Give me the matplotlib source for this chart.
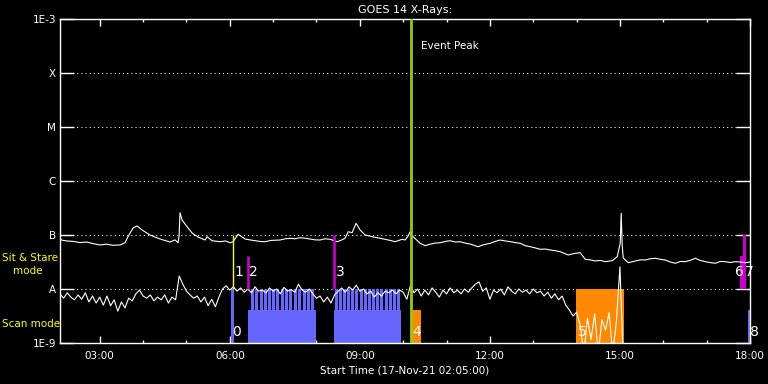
import numpy as np
import matplotlib
matplotlib.use('Agg')
import matplotlib.pyplot as plt
from matplotlib.ticker import FixedLocator, NullLocator

####################################### data (time in hours of 17-Nov-21, flux as log10 W/m^2)
# long channel (1-8 A)
long_time = [2.083, 2.15, 2.245, 2.40, 2.545, 2.70, 2.85, 3.006, 3.15, 3.30, 3.468, 3.583, 3.652,
             3.768, 3.860, 3.976, 4.160, 4.391, 4.622, 4.737, 4.806, 4.830, 4.852, 4.899, 5.014,
             5.129, 5.268, 5.429, 5.476, 5.591, 5.776, 5.90, 6.006, 6.076, 6.191, 6.352, 6.46,
             6.583, 6.70, 6.814, 6.95, 7.160, 7.28, 7.391, 7.50, 7.622, 7.74, 7.853, 7.97, 8.083,
             8.20, 8.314, 8.476, 8.560, 8.660, 8.730, 8.822, 8.914, 9.006, 9.122, 9.352, 9.46,
             9.583, 9.70, 9.814, 9.976, 10.045, 10.114, 10.160, 10.229, 10.391, 10.506, 10.62,
             10.74, 10.853, 10.97, 11.083, 11.20, 11.314, 11.43, 11.545, 11.729, 11.85, 12.006,
             12.12, 12.237, 12.35, 12.468, 12.58, 12.699, 12.814, 12.929, 13.05, 13.160, 13.28,
             13.391, 13.50, 13.622, 13.72, 13.806, 13.968, 14.083, 14.199, 14.31, 14.429, 14.55,
             14.660, 14.822, 14.937, 15.006, 15.029, 15.052, 15.076, 15.191, 15.353, 15.47,
             15.583, 15.70, 15.814, 15.93, 16.045, 16.16, 16.276, 16.39, 16.506, 16.62, 16.737,
             16.85, 16.968, 17.08, 17.199, 17.31, 17.429, 17.545, 17.660, 17.775, 17.891, 18.0]
long_logflux = [-7.08, -7.10, -7.11, -7.12, -7.14, -7.13, -7.16, -7.185, -7.17, -7.19, -7.185, -7.143, -7.031,
                -6.870, -6.833, -6.907, -7.000, -7.074, -7.130, -7.090, -7.143, -7.02, -6.587, -6.722, -6.846,
                -6.963, -7.037, -7.093, -7.031, -7.106, -7.124, -7.11, -7.143, -7.124, -6.987, -7.074, -7.09,
                -7.106, -7.12, -7.124, -7.10, -7.093, -7.07, -7.061, -7.07, -7.050, -7.06, -7.074, -7.09, -7.093,
                -7.07, -7.080, -7.124, -7.10, -7.061, -6.939, -6.957, -6.783, -6.907, -7.000, -7.043, -7.06,
                -7.080, -7.10, -7.124, -7.080, -7.093, -7.020, -6.939, -7.031, -7.154, -7.198, -7.17,
                -7.15, -7.143, -7.12, -7.106, -7.13, -7.124, -7.15, -7.167, -7.217, -7.18, -7.154,
                -7.12, -7.093, -7.11, -7.124, -7.14, -7.154, -7.198, -7.217, -7.24, -7.265, -7.26,
                -7.278, -7.29, -7.309, -7.34, -7.370, -7.339, -7.328, -7.450, -7.46, -7.481, -7.47,
                -7.494, -7.476, -7.402, -7.154, -6.598, -7.20, -7.426, -7.513, -7.481, -7.46,
                -7.463, -7.44, -7.431, -7.45, -7.463, -7.50, -7.524, -7.49, -7.494, -7.47, -7.431,
                -7.47, -7.494, -7.51, -7.524, -7.49, -7.494, -7.51, -7.494, -7.50, -7.513, -7.50]

# short channel (0.5-4 A), 5 min cadence from 02:05
short_start = 2.0833
short_step = 5 / 60
short_logflux = [
    -8.09, -8.17, -8.07, -8.15, -8.20, -8.11, -8.19, -8.07, -8.24, -8.13,
    -8.26, -8.15, -8.30, -8.13, -8.31, -8.20, -8.41, -8.24, -8.35, -8.17,
    -8.22, -8.09, -8.02, -8.13, -8.17, -8.11, -8.22, -8.15, -8.20, -8.11,
    -8.26, -8.15, -8.20, -7.76, -7.91, -8.04, -8.11, -8.17, -8.13, -8.24,
    -8.15, -8.31, -8.19, -8.33, -8.15, -8.00, -7.94, -8.02, -7.96, -8.04,
    -7.98, -8.06, -8.00, -8.07, -7.96, -8.04, -8.02, -8.07, -7.98, -8.04,
    -8.00, -8.09, -7.97, -8.04, -8.01, -8.06, -7.91, -8.02, -8.06, -8.00,
    -8.09, -8.17, -8.13, -8.24, -8.15, -8.26, -8.11, -8.04, -7.98, -8.06,
    -7.96, -8.02, -7.93, -8.04, -8.00, -8.09, -8.04, -8.15, -8.07, -8.13,
    -8.04, -8.07, -8.02, -8.09, -8.02, -8.06, -8.19, -7.94, -8.07, -8.00,
    -8.13, -8.02, -8.11, -7.98, -8.06, -8.15, -8.02, -8.09, -7.98, -8.07,
    -8.02, -8.09, -8.00, -8.06, -7.98, -7.91, -7.87, -8.04, -7.98, -8.19,
    -8.02, -8.07, -8.00, -8.11, -7.96, -8.04, -8.09, -8.00, -8.06, -8.02,
    -8.09, -8.00, -8.07, -8.04, -8.13, -8.06, -8.17, -8.09, -8.20, -8.13,
    -8.30, -8.39, -8.50, -8.43, -8.67, -9.20, -8.54, -8.94, -8.46, -9.20,
    -8.57, -8.76, -8.44, -9.20, -8.61, -7.59, -9.50,
]

# observation markers: number, start, end, bottom, top (log10), colour
obs_num = ['0', '1', '2', '3', '4', '5', '6', '7', '8']
obs_start = [6.030, 6.083, 6.422, 8.406, 10.183, 13.991, 17.776, 17.845, 17.960]
obs_end = [6.099, 6.083, 6.422, 8.406, 10.414, 15.099, 17.914, 17.914, 18.006]
obs_bottom = [-9.0, -8.0, -8.0, -8.0, -9.0, -9.0, -8.0, -8.0, -9.0]
obs_top = [-8.0, -7.0, -7.39, -7.0, -8.39, -8.0, -7.39, -7.0, -8.39]
obs_color = ['#6666ff', '#ffff00', '#cc00cc', '#cc00cc', '#ff8800', '#ff8800', '#cc00cc', '#cc00cc', '#6666ff']
obs_mode = ['scan', 'sit', 'sit', 'sit', 'scan', 'scan', 'sit', 'sit', 'scan']
obs_shift = [1, 1, 1, 1, 1, 1, -4, 1, 1]   # label nudge, points

# scan blocks with raster spikes
block_start = [6.422, 8.406]
block_end = [7.991, 9.953]
block_top = -8.39
spike_top = -8.0
spike_times = [6.514, 6.618, 6.722, 6.814, 6.913, 7.010, 7.107, 7.207, 7.299, 7.403, 7.506,
               7.610, 7.714, 7.813, 7.915,
               8.453, 8.545, 8.644, 8.737, 8.838, 8.930, 9.029, 9.122, 9.221, 9.313, 9.406,
               9.507, 9.607, 9.699, 9.791, 9.890]

event_peak = 10.176
class_levels = [-9, -8, -7, -6, -5, -4, -3]
class_labels = ['1E-9', 'A', 'B', 'C', 'M', 'X', '1E-3']
hour_ticks = [3, 6, 9, 12, 15, 18]
hour_labels = ['03:00', '06:00', '09:00', '12:00', '15:00', '18:00']

####################################### figure
fig = plt.figure(figsize=(7.68, 3.84), dpi=100, facecolor='black')
ax = fig.add_axes([60 / 768, 41 / 384, 690 / 768, 324 / 384])
ax.set_facecolor('black')
ax.set_yscale('log')
ax.set_xlim(2.0833, 18.0)
ax.set_ylim(1e-9, 1e-3)

# dotted class lines
ax.hlines([10.0 ** v for v in class_levels[1:-1]], 2.0833, 18.0, colors='white',
          linestyles=(0, (1, 3)), lw=0.75, zorder=1)

# scan blocks and spikes
for s, e in zip(block_start, block_end):
    ax.bar(s, 10 ** block_top - 1e-9, width=e - s, bottom=1e-9, align='edge',
           color='#6666ff', lw=0, zorder=2)
ax.bar(spike_times, 10 ** spike_top - 1e-9, width=0.066, bottom=1e-9, align='center',
       color='#6666ff', lw=0, zorder=2)

# markers
for n, s, e, b, t, c, m, dx in zip(obs_num, obs_start, obs_end, obs_bottom, obs_top,
                                    obs_color, obs_mode, obs_shift):
    if e - s > 0.01:
        ax.bar(s, 10 ** t - 10 ** b, width=e - s, bottom=10 ** b, align='edge', color=c, lw=0, zorder=2)
    else:
        ax.vlines(s, 10 ** b, 10 ** t, colors=c, lw=1.0 if c == '#ffff00' else 1.9, zorder=4)
    ly = -7.82 if m == 'sit' else -8.93
    ax.annotate(n, (s, 10 ** ly), xytext=(dx, 0), textcoords='offset points', color='white',
                fontsize=10, ha='left', va='bottom', zorder=6)

# goes curves
short_time = short_start + short_step * np.arange(len(short_logflux))
ax.plot(long_time, 10 ** np.array(long_logflux), color='white', lw=0.8, zorder=3)
ax.plot(short_time, 10 ** np.array(short_logflux), color='white', lw=0.8, zorder=3)

# event peak
ax.axvline(event_peak, color='#99cc00', lw=2.0, zorder=5)
ax.annotate('Event Peak', (event_peak, 10 ** -3.5), xytext=(7, 0), textcoords='offset points',
            color='white', fontsize=7.5, ha='left', va='center')

####################################### axes styling
ax.yaxis.set_major_locator(FixedLocator([10.0 ** v for v in class_levels]))
ax.yaxis.set_minor_locator(NullLocator())
ax.set_yticklabels(class_labels)
ax.xaxis.set_major_locator(FixedLocator(hour_ticks))
ax.xaxis.set_minor_locator(FixedLocator(range(3, 19)))
ax.set_xticklabels(hour_labels)
ax.tick_params(axis='y', which='major', direction='in', length=10, width=1, colors='white',
               left=True, right=True, labelsize=7.5, pad=3)
ax.tick_params(axis='x', which='major', direction='in', length=5, width=1, colors='white',
               top=True, bottom=True, labelsize=7.5, pad=6)
ax.tick_params(axis='x', which='minor', direction='in', length=2.5, width=1, colors='white',
               top=True, bottom=True)
for sp in ax.spines.values():
    sp.set_color('white')
    sp.set_linewidth(1.0)

ax.set_title('GOES 14 X-Rays:', color='white', fontsize=8, pad=4)
ax.set_xlabel('Start Time (17-Nov-21 02:05:00)', color='white', fontsize=7.5, labelpad=3)

fig.text(2 / 768, 1 - 258 / 384, 'Sit & Stare', color='#ffff00', fontsize=7.5, ha='left', va='center')
fig.text(13 / 768, 1 - 271 / 384, 'mode', color='#ffff00', fontsize=7.5, ha='left', va='center')
fig.text(2 / 768, 1 - 324 / 384, 'Scan mode', color='#ffff00', fontsize=7.5, ha='left', va='center')

fig.savefig('out.png', dpi=100, facecolor='black')
